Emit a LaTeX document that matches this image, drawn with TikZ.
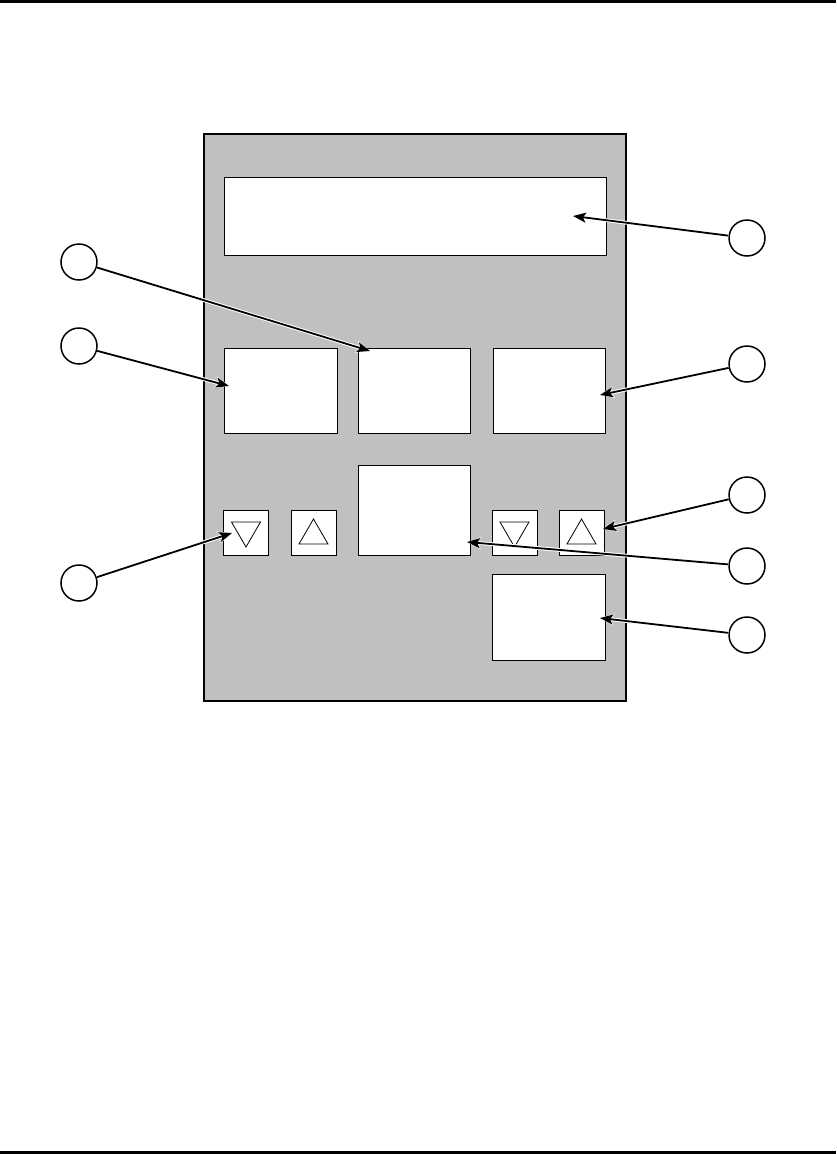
\documentclass[tikz,border=0pt]{standalone}
\usetikzlibrary{arrows.meta, calc}
\definecolor{panelgray}{HTML}{C0C0C0}

\tikzset{
  panelbox/.style={draw=black, line width=1pt, fill=white, inner sep=0pt, outer sep=0pt},
  callout/.style={draw=black, line width=1.5pt, fill=white, circle, minimum size=36pt, inner sep=0pt},
  callarrow/.style={-{Stealth[length=13pt, width=10pt, inset=3pt]}, line width=1.8pt,
    preaction={draw=white, line width=3.8pt, -{Stealth[length=14pt, width=12pt, inset=3pt]}}},
  tri/.style={draw=black, line width=0.8pt}
}

\begin{document}
\begin{tikzpicture}[x=1pt, y=-1pt]
\useasboundingbox (0,0) rectangle (836,1154);

% Page rules
\draw[line width=2.6pt] (0,1.3) -- (836,1.3);
\draw[line width=2.6pt] (0,1152.7) -- (836,1152.7);

% Panel
\fill[panelgray] (204,134) rectangle (626,701);
\draw[line width=2pt] (204,134) rectangle (626,701);

% Display and keys
\node[panelbox, minimum width=382pt, minimum height=78pt] (display) at (415,216) {};
\node[panelbox, minimum width=113pt, minimum height=85pt] (boxA) at (280.5,390.5) {};
\node[panelbox, minimum width=112pt, minimum height=85pt] (boxB) at (414,390.5) {};
\node[panelbox, minimum width=112pt, minimum height=85pt] (boxC) at (549,390.5) {};
\node[panelbox, minimum width=112pt, minimum height=90pt] (boxM) at (414,510) {};
\node[panelbox, minimum width=113pt, minimum height=86pt] (boxD) at (548.5,617) {};
\node[panelbox, minimum width=45pt, minimum height=45pt] (down1) at (246,533) {};
\node[panelbox, minimum width=45pt, minimum height=45pt] (up1) at (313.5,533) {};
\node[panelbox, minimum width=45pt, minimum height=45pt] (down2) at (514.5,533) {};
\node[panelbox, minimum width=45pt, minimum height=45pt] (up2) at (581.5,533) {};

% Triangles on the keys
\draw[tri] ($(down1)+(-14.5,-11)$) -- ($(down1)+(14.5,-11)$) -- ($(down1)+(0,14)$) -- cycle;
\draw[tri] ($(up1)+(0,-14)$) -- ($(up1)+(14.5,11)$) -- ($(up1)+(-14.5,11)$) -- cycle;
\draw[tri] ($(down2)+(-14.5,-11)$) -- ($(down2)+(14.5,-11)$) -- ($(down2)+(0,14)$) -- cycle;
\draw[tri] ($(up2)+(0,-14)$) -- ($(up2)+(14.5,11)$) -- ($(up2)+(-14.5,11)$) -- cycle;

% Callouts
\node[callout] (c1) at (747,238) {};
\node[callout] (c2) at (79,262) {};
\node[callout] (c3) at (79,346) {};
\node[callout] (c4) at (747,364) {};
\node[callout] (c5) at (747,495) {};
\node[callout] (c6) at (747,566) {};
\node[callout] (c7) at (747,635) {};
\node[callout] (c8) at (79,583) {};

% Arrow tips
\coordinate (t1) at (573,216);
\coordinate (t2) at (370,351);
\coordinate (t3) at (229,386);
\coordinate (t4) at (600,395);
\coordinate (t5) at (603,529);
\coordinate (t6) at (467,542);
\coordinate (t7) at (600,618);
\coordinate (t8) at (232,533);

\foreach \i in {1,...,8}
  \draw[callarrow] (c\i) -- (t\i);

\end{tikzpicture}
\end{document}
